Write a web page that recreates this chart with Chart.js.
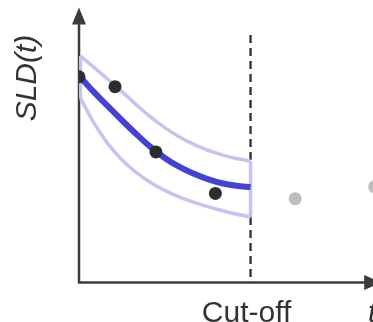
<!DOCTYPE html>
<html>
<head>
<meta charset="utf-8">
<script src="https://cdn.jsdelivr.net/npm/chart.js@4.4.1/dist/chart.umd.min.js"></script>
<style>
  html, body { margin: 0; padding: 0; background: #fff; overflow: hidden; }
  #frame { width: 373px; height: 322px; overflow: hidden; }
  #wrap { width: 400px; height: 322px; }
</style>
</head>
<body>
<div id="frame"><div id="wrap"><canvas id="chart"></canvas></div></div>
<script>
// fitted curve + band, sampled up to the cut-off
const fitTimes = [0.05, 0.5, 1, 1.5, 2, 2.5, 3, 3.5, 4, 4.5, 5, 5.5, 6];
const fitMean  = [74.7, 69.5, 64.2, 59.0, 54.0, 49.3, 45.3, 42.1, 39.6, 37.6, 36.1, 35.2, 34.7];
const fitUpper = [82.4, 78.4, 74.0, 69.4, 64.7, 60.2, 56.3, 53.0, 50.3, 48.1, 46.4, 45.1, 44.1];
const fitLower = [67.1, 58.4, 50.6, 44.6, 40.0, 36.4, 33.5, 31.1, 29.2, 27.6, 26.2, 24.9, 23.8];

// observed SLD before / after the cut-off
const obsTimes   = [0, 1.26, 2.69, 4.77];
const obsValues  = [74.8, 71.2, 47.5, 32.4];
const lateTimes  = [7.56, 10.34];
const lateValues = [30.5, 34.8];

const cutOff = 6;
const cutOffTop = 90;
const xArrowEnd = 10.57;
const yLabel = 'SLD(t)';
const xLabel = 't';
const cutOffLabel = 'Cut-off';

const toPoints = (xs, ys) => xs.map((t, i) => ({ x: t, y: ys[i] }));

const BAND = 'rgb(196, 196, 240)';
const last = fitTimes.length - 1;

const axesPlugin = {
    id: 'axes',
    beforeDatasetsDraw(chart) {
        const { ctx, scales: { x, y } } = chart;
        const x0 = x.getPixelForValue(0);
        const y0 = y.getPixelForValue(0);
        const yTop = y.getPixelForValue(100);
        const xEnd = x.getPixelForValue(xArrowEnd);
        const xc = x.getPixelForValue(cutOff);

        ctx.save();
        ctx.strokeStyle = '#3c3c3c';
        ctx.fillStyle = '#3c3c3c';
        ctx.lineWidth = 2.5;
        ctx.beginPath();
        ctx.moveTo(x0, yTop + 12);
        ctx.lineTo(x0, y0);
        ctx.lineTo(xEnd - 12, y0);
        ctx.stroke();

        // arrow heads
        ctx.beginPath();
        ctx.moveTo(x0, yTop);
        ctx.lineTo(x0 - 7, yTop + 17);
        ctx.lineTo(x0 + 7, yTop + 17);
        ctx.closePath();
        ctx.fill();
        ctx.beginPath();
        ctx.moveTo(xEnd, y0);
        ctx.lineTo(xEnd - 17, y0 - 7.5);
        ctx.lineTo(xEnd - 17, y0 + 7.5);
        ctx.closePath();
        ctx.fill();

        // cut-off line
        ctx.strokeStyle = '#2e2e2e';
        ctx.lineWidth = 2.3;
        ctx.setLineDash([8, 5]);
        ctx.beginPath();
        ctx.moveTo(xc, y.getPixelForValue(cutOffTop));
        ctx.lineTo(xc, y0);
        ctx.stroke();
        ctx.restore();
    },
    afterDraw(chart) {
        const { ctx, scales: { x, y } } = chart;
        ctx.save();
        ctx.fillStyle = '#333';
        ctx.font = '30px "Liberation Sans", Arial, sans-serif';
        ctx.textAlign = 'center';
        ctx.textBaseline = 'alphabetic';
        ctx.fillText(cutOffLabel, x.getPixelForValue(cutOff) - 4, 321.5);

        ctx.font = 'italic 30px "Liberation Sans", Arial, sans-serif';
        ctx.fillText(xLabel, x.getPixelForValue(xArrowEnd) - 9, 321.5);

        ctx.translate(36, 78);
        ctx.rotate(-Math.PI / 2);
        ctx.fillText(yLabel, 0, 0);
        ctx.restore();
    }
};

const bandLine = (points) => ({
    data: points,
    showLine: true,
    borderColor: BAND,
    borderWidth: 3.5,
    pointRadius: 0,
    cubicInterpolationMode: 'monotone',
    order: 3,
});

const data = {
    datasets: [
        {
            label: 'observed',
            data: toPoints(obsTimes, obsValues),
            backgroundColor: '#2d2d2d',
            borderWidth: 0,
            pointRadius: 6.5,
            order: 0,
        },
        {
            label: 'after cut-off',
            data: toPoints(lateTimes, lateValues),
            backgroundColor: '#bdbdbd',
            borderWidth: 0,
            pointRadius: 6.5,
            order: 1,
        },
        {
            label: 'fit',
            data: toPoints(fitTimes, fitMean),
            showLine: true,
            borderColor: 'rgb(66, 66, 214)',
            borderWidth: 6,
            pointRadius: 0,
            cubicInterpolationMode: 'monotone',
            order: 2,
        },
        bandLine(toPoints(fitTimes, fitUpper)),
        bandLine(toPoints(fitTimes, fitLower)),
        bandLine([{ x: fitTimes[last], y: fitUpper[last] }, { x: fitTimes[last], y: fitLower[last] }]),
        bandLine([{ x: fitTimes[0], y: fitUpper[0] }, { x: fitTimes[0], y: fitLower[0] }]),
    ],
};

const config = {
    type: 'scatter',
    data: data,
    options: {
        responsive: true,
        maintainAspectRatio: false,
        animation: false,
        events: [],
        layout: {
            padding: { left: 79, right: 5.7, top: 7.5, bottom: 39.5 },
        },
        plugins: {
            legend: { display: false },
            tooltip: { enabled: false },
        },
        scales: {
            x: { type: 'linear', min: 0, max: 11, display: false },
            y: { type: 'linear', min: 0, max: 100, display: false },
        },
    },
    plugins: [axesPlugin],
};

new Chart(document.getElementById('chart'), config);
</script>
</body>
</html>
